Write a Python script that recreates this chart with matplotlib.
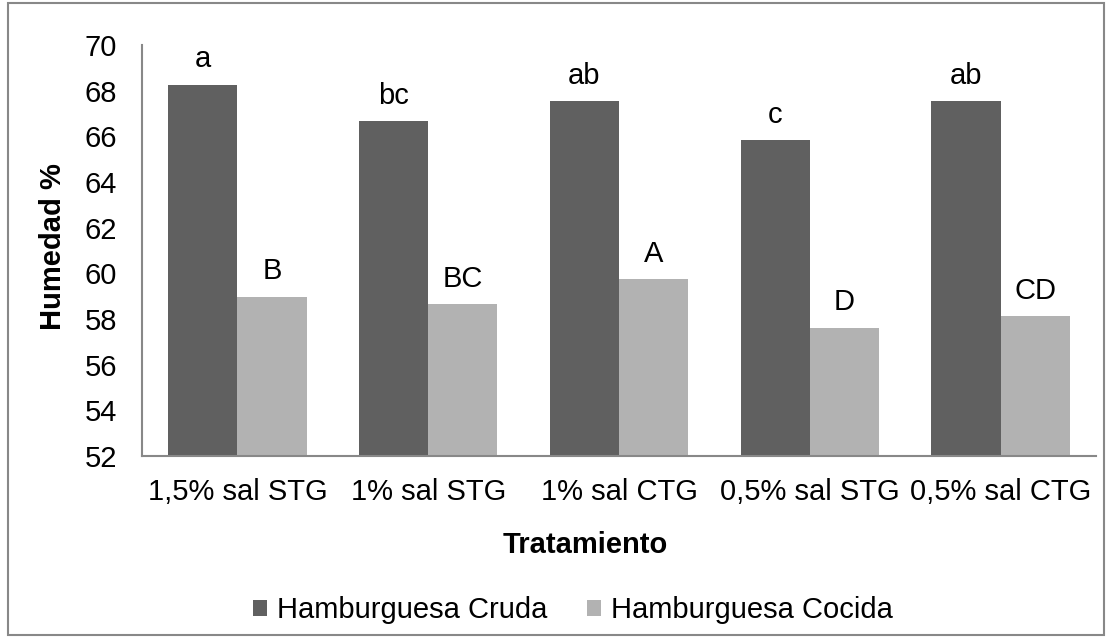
import numpy as np
import matplotlib.pyplot as plt
from matplotlib.patches import Rectangle

plt.rcParams['font.family'] = ['Liberation Sans', 'DejaVu Sans']

tratamientos = ["1,5% sal STG", "1% sal STG", "1% sal CTG", "0,5% sal STG", "0,5% sal CTG"]
cruda = [68.27, 66.66, 67.54, 65.83, 67.54]
cocida = [58.98, 58.64, 59.73, 57.62, 58.13]
letras_cruda = ["a", "bc", "ab", "c", "ab"]
letras_cocida = ["B", "BC", "A", "D", "CD"]

fig = plt.figure(figsize=(11.12, 6.39), dpi=100)
ax = fig.add_axes([142 / 1112, 1 - 456 / 639, (1096 - 142) / 1112, (456 - 45) / 639])

x = np.arange(len(tratamientos))
w = 0.363
b1 = ax.bar(x - w / 2, np.array(cruda) - 52, w, bottom=52, color="#606060",
            label="Hamburguesa Cruda")
b2 = ax.bar(x + w / 2, np.array(cocida) - 52, w, bottom=52, color="#b2b2b2",
            label="Hamburguesa Cocida")

# letras de significancia sobre cada barra
for bars, vals, letras in ((b1, cruda, letras_cruda), (b2, cocida, letras_cocida)):
    for bar, v, l in zip(bars, vals, letras):
        ax.annotate(l, (bar.get_x() + bar.get_width() / 2, v), xytext=(0, 12.5),
                    textcoords="offset points", ha="center", va="baseline", fontsize=21)

ax.set_xlim(-0.5, len(tratamientos) - 0.5)
ax.set_ylim(52, 70)
ax.set_yticks(range(52, 71, 2))
ax.set_xticks(x)
ax.set_xticklabels(tratamientos)
ax.tick_params(axis="both", length=0, labelsize=21)
ax.tick_params(axis="y", pad=18)
ax.tick_params(axis="x", pad=16)
for s in ("top", "right"):
    ax.spines[s].set_visible(False)
for s in ("left", "bottom"):
    ax.spines[s].set_color("#888888")
    ax.spines[s].set_linewidth(1.5)

ax.set_xlabel("Tratamiento", fontsize=21, fontweight="bold")
ax.set_ylabel("Humedad %", fontsize=21, fontweight="bold")
ax.xaxis.set_label_coords((585 - 142) / 954, (456 - 545) / 411, transform=ax.transAxes)
ax.yaxis.set_label_coords((53 - 142) / 954, (456 - 247) / 411, transform=ax.transAxes)
ax.xaxis.label.set_va("center")
ax.yaxis.label.set_va("center")

fig.legend(loc="center", bbox_to_anchor=(573 / 1112, 1 - 610 / 639), ncol=2, frameon=False,
           fontsize=21, handlelength=0.48, handleheight=0.48, handletextpad=0.34,
           columnspacing=1.37)

fig.patches.append(Rectangle((8 / 1112, 4 / 639), 1096 / 1112, 632 / 639,
                             transform=fig.transFigure, fill=False,
                             edgecolor="#888888", linewidth=1.5))

fig.savefig("out.png", dpi=100)
